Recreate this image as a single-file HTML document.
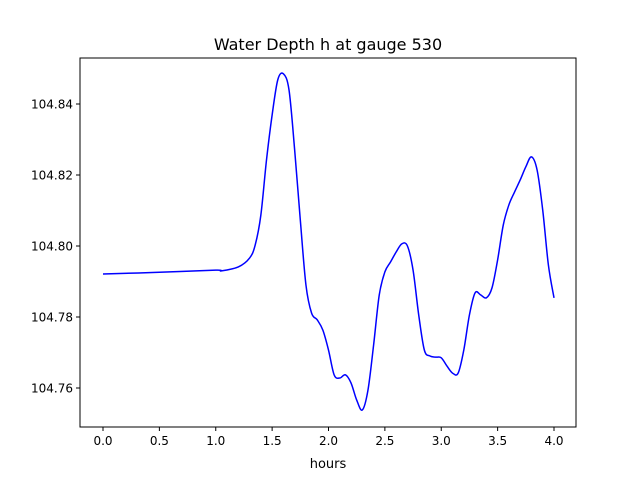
<!DOCTYPE html>
<html><head><meta charset="utf-8"><style>
body{margin:0;background:#fff;}
svg text{font-family:"DejaVu Sans","Liberation Sans",sans-serif;}
</style></head><body>
<svg id="chart" width="640" height="480" xmlns="http://www.w3.org/2000/svg">
<rect width="640" height="480" fill="#fff"/>
<text x="328" y="50" font-size="16" text-anchor="middle">Water Depth h at gauge 530</text>
<g id="plot"></g>
<rect x="80" y="58" width="496" height="369" fill="none" stroke="#000" stroke-width="1"/>
<text x="328" y="468" font-size="13" text-anchor="middle">hours</text>
</svg>
<script>
const times=[0,0.5,1.0,1.05,1.2,1.3,1.35,1.4,1.45,1.5,1.55,1.6,1.65,1.7,1.75,1.8,1.85,1.9,1.95,2.0,2.05,2.1,2.15,2.2,2.25,2.3,2.35,2.4,2.45,2.5,2.55,2.6,2.65,2.7,2.75,2.8,2.85,2.9,2.95,3.0,3.05,3.1,3.15,3.2,3.25,3.3,3.35,3.4,3.45,3.5,3.55,3.6,3.65,3.7,3.75,3.8,3.85,3.9,3.95,4.0];
const depth=[104.7921,104.7926,104.7932,104.7930,104.7941,104.7966,104.8003,104.8087,104.8242,104.8369,104.8468,104.8485,104.8439,104.8270,104.8073,104.7890,104.7811,104.7792,104.7763,104.7707,104.7637,104.7628,104.7637,104.7614,104.7566,104.7538,104.7594,104.7721,104.7862,104.7927,104.7955,104.7983,104.8006,104.8000,104.7932,104.7806,104.7707,104.7690,104.7687,104.7685,104.7662,104.7642,104.7642,104.7707,104.7806,104.7868,104.7862,104.7854,104.7882,104.7961,104.8059,104.8116,104.8152,104.8186,104.8223,104.8251,104.8214,104.8101,104.7947,104.7854];
const xTicks=[0,0.5,1.0,1.5,2.0,2.5,3.0,3.5,4.0];
const xTickLabels=["0.0","0.5","1.0","1.5","2.0","2.5","3.0","3.5","4.0"];
const yTicks=[104.76,104.78,104.80,104.82,104.84];
const yTickLabels=["104.76","104.78","104.80","104.82","104.84"];
const X0=80,X1=576,Y0=58,Y1=427;
const xMin=-0.2040,xMax=4.1951,yMin=104.74901,yMax=104.85296;
const sx=v=>X0+(v-xMin)/(xMax-xMin)*(X1-X0);
const sy=v=>Y1-(v-yMin)/(yMax-yMin)*(Y1-Y0);
const NS="http://www.w3.org/2000/svg";
const g=document.getElementById('plot');
function mk(t,a){const e=document.createElementNS(NS,t);for(const k in a)e.setAttribute(k,a[k]);return e;}
xTicks.forEach((v,i)=>{
 const l=mk('line',{x1:sx(v),x2:sx(v),y1:Y1,y2:Y1+4,stroke:'#000'});
 
 
 g.appendChild(l);
 const t=mk('text',{x:sx(v),y:Y1+18,'font-size':12,'text-anchor':'middle'});
 
 
 t.textContent=xTickLabels[i];g.appendChild(t);
});
yTicks.forEach((v,i)=>{
 const l=mk('line',{x1:X0-4,x2:X0,y1:sy(v),y2:sy(v),stroke:'#000'});
 
 
 g.appendChild(l);
 const t=mk('text',{x:X0-7,y:sy(v)+4.5,'font-size':12,'text-anchor':'end'});
 
 
 t.textContent=yTickLabels[i];g.appendChild(t);
});
const P=times.map((t,i)=>[sx(t),sy(depth[i])]);
let d='M'+P[0][0]+','+P[0][1];
for(let i=0;i<P.length-1;i++){
 const p0=P[Math.max(0,i-1)],p1=P[i],p2=P[i+1],p3=P[Math.min(P.length-1,i+2)];
 const c1=[p1[0]+(p2[0]-p0[0])/6,p1[1]+(p2[1]-p0[1])/6];
 const c2=[p2[0]-(p3[0]-p1[0])/6,p2[1]-(p3[1]-p1[1])/6];
 d+=` C${c1[0]},${c1[1]} ${c2[0]},${c2[1]} ${p2[0]},${p2[1]}`;
}
const path=mk('path',{d:d,fill:'none',stroke:'#0000ff','stroke-width':1.5});


g.appendChild(path);
</script>
</body></html>
